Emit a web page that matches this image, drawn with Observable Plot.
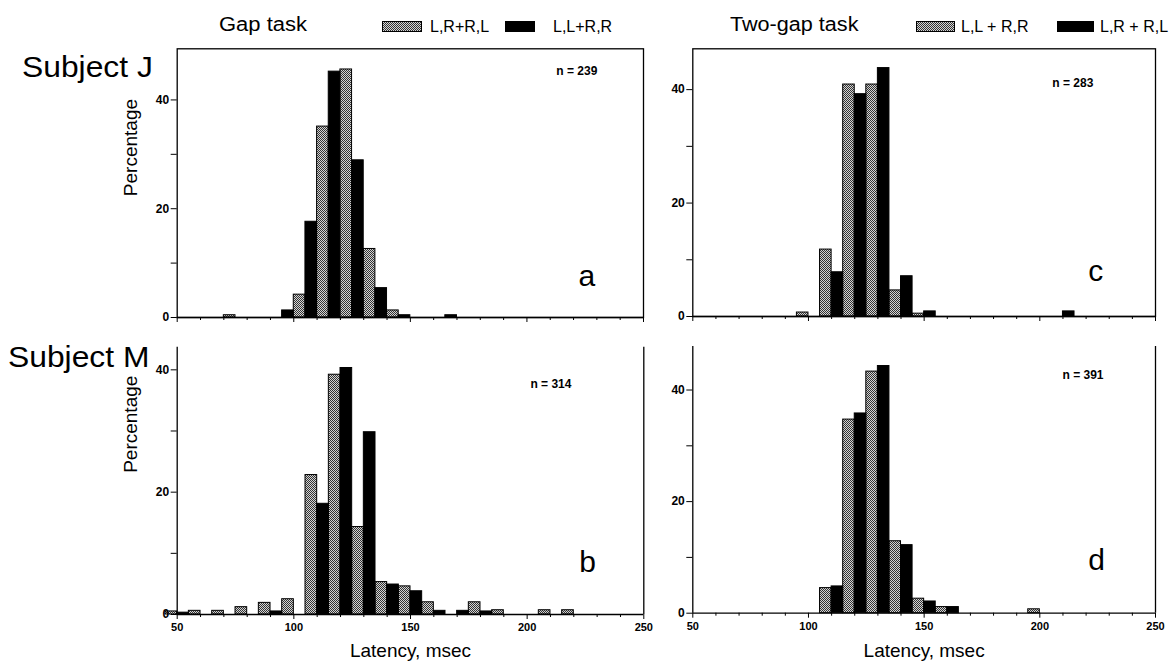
<!DOCTYPE html>
<html><head><meta charset="utf-8">
<script src="https://cdn.jsdelivr.net/npm/d3@7"></script>
<script src="https://cdn.jsdelivr.net/npm/@observablehq/plot@0.6"></script>
<style>
body{margin:0;background:#fff;}
#root{position:relative;width:1169px;height:664px;overflow:hidden;font-family:"Liberation Sans",Arial,sans-serif;background:#fff;}
.t{position:absolute;line-height:1;white-space:nowrap;color:#000;transform-origin:0 0;}
.sw{position:absolute;border:1px solid #000;box-sizing:border-box;}
.gray{background:repeating-conic-gradient(#333 0% 25%, #d4d4d4 0% 50%) 0 0/2px 2px;}
.black{background:#000;}
.panel{position:absolute;}
</style></head><body>
<svg width="0" height="0" style="position:absolute"><defs>
<pattern id="stip" width="2" height="2" patternUnits="userSpaceOnUse"><rect width="2" height="2" fill="#d4d4d4"/><rect width="1" height="1" fill="#333"/><rect x="1" y="1" width="1" height="1" fill="#333"/></pattern>
</defs></svg>
<div id="root"></div>
<script>
// ---------- data (latency bin start, msec; percentage) ----------
const subjects = ["Subject J", "Subject M"];
const tasks = ["Gap task", "Two-gap task"];
const gapLegend = ["L,R+R,L", "L,L+R,R"];       // gray, black
const twoGapLegend = ["L,L + R,R", "L,R + R,L"]; // gray, black
const nLabels = [239, 314, 283, 391];            // a, b, c, d
const panelLetters = ["a", "b", "c", "d"];

const xMajorTicks = [50, 100, 150, 200, 250];
const xMinorTicks = [60, 70, 80, 90, 110, 120, 130, 140, 160, 170, 180, 190, 210, 220, 230, 240];
const yMajorTicks = [0, 20, 40];
const yMinorTicks = [10, 30];

// Panel a: Subject J, Gap task
const jGapGrayBins = [70, 100, 110, 120, 130, 140];
const jGapGrayPct  = [0.42, 4.2, 35.1, 45.6, 12.6, 1.3];
const jGapBlackBins = [95, 105, 115, 125, 135, 145, 165];
const jGapBlackPct  = [1.3, 17.6, 45.2, 28.9, 5.4, 0.42, 0.42];

// Panel b: Subject M, Gap task
const mGapGrayBins = [45, 55, 65, 75, 85, 95, 105, 115, 125, 135, 145, 155, 175, 185, 205, 215];
const mGapGrayPct  = [0.5, 0.6, 0.6, 1.2, 1.9, 2.5, 22.8, 39.2, 14.3, 5.3, 4.6, 2.0, 2.0, 0.7, 0.7, 0.7];
const mGapBlackBins = [50, 90, 110, 120, 130, 140, 150, 160, 170, 180];
const mGapBlackPct  = [0.3, 0.5, 18.1, 40.3, 29.8, 4.9, 3.8, 0.6, 0.6, 0.5];

// Panel c: Subject J, Two-gap task
const jTwoGrayBins = [95, 105, 115, 125, 135, 145];
const jTwoGrayPct  = [0.7, 11.8, 40.9, 40.9, 4.6, 0.5];
const jTwoBlackBins = [110, 120, 130, 140, 150, 210];
const jTwoBlackPct  = [7.8, 39.2, 43.8, 7.1, 0.9, 0.9];

// Panel d: Subject M, Two-gap task
const mTwoGrayBins = [105, 115, 125, 135, 145, 155, 195];
const mTwoGrayPct  = [4.5, 34.7, 43.3, 12.9, 2.6, 1.1, 0.7];
const mTwoBlackBins = [110, 120, 130, 140, 150, 160];
const mTwoBlackPct  = [4.8, 35.8, 44.3, 12.2, 2.1, 1.1];

// ---------- rendering ----------
const binWidth = 5;
const rows = (bins, pct) => bins.map((b, i) => ({x1: b, x2: b + binWidth, v: pct[i]}));
const font = "Liberation Sans, Arial, sans-serif";
const root = document.getElementById("root");

function panel(o) {
  const marks = [
    Plot.rectY(rows(o.grayBins, o.grayPct), {x1: "x1", x2: "x2", y: "v", fill: "url(#stip)", stroke: "black", strokeWidth: 1}),
    Plot.rectY(rows(o.blackBins, o.blackPct), {x1: "x1", x2: "x2", y: "v", fill: "black", stroke: "black", strokeWidth: 1}),
    Plot.ruleY([0], {strokeWidth: 1.3}),
    o.boxed ? Plot.frame({strokeWidth: 1.3}) : Plot.ruleX([50, 250], {strokeWidth: 1.3}),
    Plot.axisY({ticks: yMajorTicks, tickSize: 6, tickPadding: 2, label: null, fontSize: 12, fontWeight: "bold"}),
    Plot.axisY({ticks: yMinorTicks, tickSize: 6, tickFormat: () => "", label: null}),
    Plot.axisX({ticks: xMinorTicks, tickSize: 3, tickFormat: () => "", label: null}),
    Plot.axisX({ticks: xMajorTicks, tickSize: 5, tickPadding: 4, tickFormat: o.xLabels ? (d => d) : (() => ""), label: null, fontSize: 11, fontWeight: "bold"}),
    Plot.text([{x: o.nx, y: o.ny, t: "n = " + o.n}], {x: "x", y: "y", text: "t", textAnchor: "start", fontSize: 12, fontWeight: "bold"}),
    Plot.text([{x: o.lx, y: o.ly, t: o.letter}], {x: "x", y: "y", text: "t", fontSize: 30})
  ];
  if (o.ylab) marks.push(Plot.text(["Percentage"], {frameAnchor: "left", rotate: -90, dx: o.ylabDx, dy: o.ylabDy, fontSize: 19}));
  if (o.xLabels) marks.push(Plot.text(["Latency, msec"], {frameAnchor: "bottom", dy: o.xlabDy, fontSize: 19}));
  const svg = Plot.plot({
    width: o.width, height: o.height,
    marginLeft: o.mL, marginRight: o.mR, marginTop: o.mT, marginBottom: o.mB,
    x: {domain: [50, 250]},
    y: {domain: [0, o.ymax]},
    style: {fontFamily: font, fontSize: "11px", background: "transparent", overflow: "visible", color: "black"},
    marks
  });
  const div = document.createElement("div");
  div.className = "panel";
  div.style.left = o.left + "px";
  div.style.top = o.top + "px";
  div.appendChild(svg);
  root.appendChild(div);
}

// a
panel({grayBins: jGapGrayBins, grayPct: jGapGrayPct, blackBins: jGapBlackBins, blackPct: jGapBlackPct,
  ymax: 49.4, left: 110, top: 40, width: 542, height: 290, mL: 66.7, mR: 9, mT: 8.3, mB: 13,
  boxed: true, xLabels: false, n: nLabels[0], nx: 212.6, ny: 45.3, letter: panelLetters[0], lx: 225.7, ly: 7.5,
  ylab: true, ylabDx: -46.7, ylabDy: 13});
// b
panel({grayBins: mGapGrayBins, grayPct: mGapGrayPct, blackBins: mGapBlackBins, blackPct: mGapBlackPct,
  ymax: 43.7, left: 110, top: 336, width: 542, height: 328, mL: 66.7, mR: 8.7, mT: 10.7, mB: 50,
  boxed: false, xLabels: true, n: nLabels[1], nx: 201.4, ny: 37.7, letter: panelLetters[1], lx: 225.9, ly: 8.5,
  ylab: true, ylabDx: -46.7, ylabDy: -8, xlabDy: 42});
// c
panel({grayBins: jTwoGrayBins, grayPct: jTwoGrayPct, blackBins: jTwoBlackBins, blackPct: jTwoBlackPct,
  ymax: 47.2, left: 652, top: 40, width: 517, height: 290, mL: 40.3, mR: 14, mT: 8.3, mB: 14,
  boxed: true, xLabels: false, n: nLabels[2], nx: 205.4, ny: 41.1, letter: panelLetters[2], lx: 224.2, ly: 7.9,
  ylab: false});
// d
panel({grayBins: mTwoGrayBins, grayPct: mTwoGrayPct, blackBins: mTwoBlackBins, blackPct: mTwoBlackPct,
  ymax: 47.8, left: 652, top: 336, width: 517, height: 328, mL: 40.3, mR: 14, mT: 10, mB: 51.3,
  boxed: false, xLabels: true, n: nLabels[3], nx: 209.8, ny: 42.6, letter: panelLetters[3], lx: 224.5, ly: 9.4,
  ylab: false, xlabDy: 43.3});

// titles & legends
function text(s, x, baseline, size, extra) {
  const d = document.createElement("div");
  d.className = "t";
  d.textContent = s;
  d.style.left = x + "px";
  d.style.top = (baseline - 0.846 * size) + "px";
  d.style.fontSize = size + "px";
  if (extra) Object.assign(d.style, extra);
  root.appendChild(d);
}
function swatch(cls, x, y, w, h) {
  const d = document.createElement("div");
  d.className = "sw " + cls;
  Object.assign(d.style, {left: x + "px", top: y + "px", width: w + "px", height: h + "px"});
  root.appendChild(d);
}
text(subjects[0], 22, 77, 30, {transform: "scaleX(1.06)"});
text(subjects[1], 8, 367, 30, {transform: "scaleX(1.06)"});
text(tasks[0], 219, 31, 20, {transform: "scaleX(1.1)"});
text(tasks[1], 730, 31, 20, {transform: "scaleX(1.08)"});
swatch("gray", 382, 21, 40, 11); text(gapLegend[0], 430, 32.5, 16);
swatch("black", 505, 21, 30, 11); text(gapLegend[1], 553, 32.5, 16);
swatch("gray", 916, 21, 39, 11); text(twoGapLegend[0], 961, 32.5, 16);
swatch("black", 1057, 21, 37, 11); text(twoGapLegend[1], 1100, 32.5, 16);
</script>
</body></html>
